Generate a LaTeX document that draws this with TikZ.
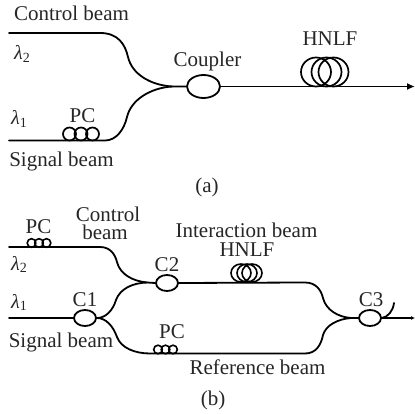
\documentclass[tikz,border=0pt]{standalone}
\usepackage{fontspec}
\setmainfont{Liberation Serif}
\usetikzlibrary{shapes.geometric,arrows.meta}
\newcommand{\lam}[1]{{\fontsize{20}{20}\selectfont\itshape λ}{\fontsize{14}{14}\selectfont\raisebox{-2.5pt}{#1}}}
\tikzset{
  fiber/.style={line width=1.8pt,line cap=round,black},
  lab/.style={inner sep=0pt,anchor=base,font=\fontsize{21}{21}\selectfont,text=black!85},
  coupler/.style={draw,ellipse,line width=1.8pt,black,inner sep=0pt,minimum width=#1},
  coilb/.style={draw,circle,line width=1.7pt,black,inner sep=0pt,minimum size=13pt},
  coils/.style={draw,circle,line width=1.6pt,black,inner sep=0pt,minimum size=8.6pt},
  loopb/.style={draw,ellipse,line width=1.7pt,black,inner sep=0pt,minimum width=30pt,minimum height=29pt},
  loops/.style={draw,ellipse,line width=1.6pt,black,inner sep=0pt,minimum width=20pt,minimum height=18pt},
  tip/.style={-{Latex[length=8pt,width=7pt]}}
}
\begin{document}
\begin{tikzpicture}[x=1pt,y=-1pt]
\useasboundingbox (0,0) rectangle (415,414);
% ---------- (a)
\node[coupler=33pt,minimum height=23pt] (cpl) at (203.5,86.5) {};
\coordinate (ain2) at (9,33);
\coordinate (ain1) at (9,140.5);
\coordinate (aout) at (415,86.5);
\coordinate (aj) at (172,86.5);
\draw[fiber] (ain2) -- (100,33) .. controls (118,33) and (125,44) .. (128,57)
   .. controls (132,74) and (150,85) .. (aj) -- (cpl.west);
\draw[fiber] (ain1) -- (105,140.5) .. controls (116,140.5) and (124,130) .. (127,117)
   .. controls (131,100) and (150,88) .. (aj);
\draw[fiber,tip] (cpl.east) -- (aout);
\node[coilb] (pa1) at (69.5,134) {};
\node[coilb] (pa2) at (81,134) {};
\node[coilb] (pa3) at (92.5,134) {};
\node[loopb] (ha1) at (316,72) {};
\node[loopb] (ha2) at (326.5,72) {};
\node[loopb] (ha3) at (333.5,72) {};
\node[lab] (t1) at (71.5,21) {Control beam};
\node[lab] (t2) at (61.5,167) {Signal beam};
\node[lab] (t3) at (207.5,67) {Coupler};
\node[lab] (t4) at (330,46) {HNLF};
\node[lab] (t5) at (82.5,123) {PC};
\node[lab,anchor=base west] (t6) at (14,60) {\lam{2}};
\node[lab,anchor=base west] (t7) at (11,125) {\lam{1}};
\node[lab] (t8) at (207,193) {(a)};
% ---------- (b)
\node[coupler=22pt,minimum height=16pt] (c1) at (85,318) {};
\node[coupler=22pt,minimum height=16pt] (c2) at (167,283) {};
\node[coupler=22pt,minimum height=16pt] (c3) at (370,318) {};
\coordinate (bin2) at (9,247);
\coordinate (bin1) at (9,318);
\coordinate (bj2) at (147,282.5);
\coordinate (bj3) at (351,318);
\coordinate (bend) at (415,318);
\coordinate (btail) at (394,303);
\draw[fiber] (bin2) -- (100,247) .. controls (110,247) and (115,254) .. (117,262)
   .. controls (120,274) and (132,281) .. (bj2) -- (c2.west);
\draw[fiber] (bin1) -- (c1.west);
\draw[fiber] (c1.east) .. controls (106,318) and (113,310) .. (116,300)
   .. controls (120,289) and (132,283) .. (bj2);
\draw[fiber] (c1.east) .. controls (106,318) and (113,326) .. (117,337)
   .. controls (121,348) and (135,353.5) .. (150,353.5) -- (305,353.5)
   .. controls (316,353.5) and (321,345) .. (323,335)
   .. controls (326,325) and (338,319) .. (bj3);
\draw[fiber] (c2.east) -- (305,282.5) .. controls (316,282.5) and (321,290) .. (323,298)
   .. controls (326,310) and (338,317) .. (bj3) -- (c3.west);
\draw[fiber,-{Latex[length=4pt,width=4pt]}] (c3.east) -- (bend);
\draw[fiber] (c3.east) .. controls (388,317) and (393,311) .. (btail);
\node[coils] (pb1) at (31.5,243) {};
\node[coils] (pb2) at (39,243) {};
\node[coils] (pb3) at (46.5,243) {};
\node[coils] (pc1) at (158,349.5) {};
\node[coils] (pc2) at (165.5,349.5) {};
\node[coils] (pc3) at (173,349.5) {};
\node[loops] (hb1) at (241,273) {};
\node[loops] (hb2) at (247,273) {};
\node[loops] (hb3) at (252,273) {};
\node[lab] (u1) at (38.5,234) {PC};
\node[lab] (u2) at (108,222) {Control};
\node[lab] (u3) at (105,239.5) {beam};
\node[lab] (u4) at (167,271) {C2};
\node[lab] (u5) at (85,306) {C1};
\node[lab] (u6) at (371,306) {C3};
\node[lab] (u7) at (246.5,237) {Interaction beam};
\node[lab] (u8) at (247,257) {HNLF};
\node[lab] (u9) at (172,338) {PC};
\node[lab] (u10) at (61,347) {Signal beam};
\node[lab] (u11) at (257.5,374) {Reference beam};
\node[lab,anchor=base west] (u12) at (11,270) {\lam{2}};
\node[lab,anchor=base west] (u13) at (11,308) {\lam{1}};
\node[lab] (u14) at (213,405) {(b)};
\end{tikzpicture}
\end{document}
